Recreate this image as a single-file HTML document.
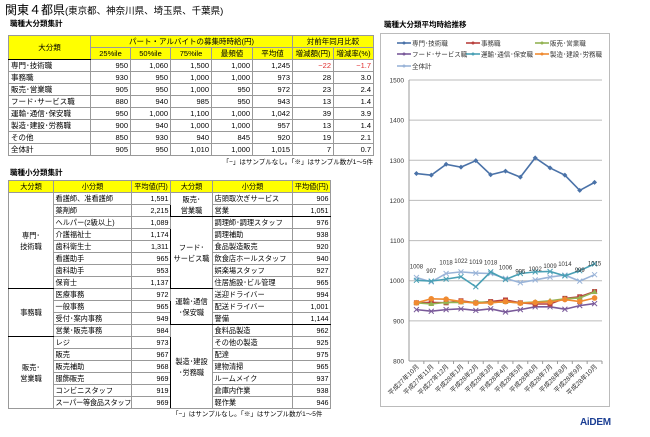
<!DOCTYPE html>
<html><head><meta charset="utf-8">
<style>
*{margin:0;padding:0;box-sizing:border-box}
body{width:650px;height:437px;background:#fff;position:relative;overflow:hidden;font-family:"Liberation Sans","Noto Sans CJK JP",sans-serif;color:#000}
.abs{position:absolute}
table{border-collapse:collapse;font-size:7.5px;table-layout:fixed}
td{border:1px solid #999;padding:0 2px;white-space:nowrap;overflow:hidden}
.y{background:#ffff00;text-align:center}
.r{text-align:right}
.c{text-align:center}
#t1{left:8px;top:35px;width:365px;border:1.5px solid #000}
#t1 tr{height:12px}
#t2{left:8px;top:180px;width:322px;border:1.5px solid #000;font-size:7.2px}
#t2 td{padding:0 1.5px}
#t2 tr{height:12px}
.bt td{border-top:1.5px solid #000}
.neg{color:#e03030}
</style></head><body>
<div class="abs" style="left:5px;top:1px;font-size:12px;">関東４都県<span style="font-size:9.5px">(東京都、神奈川県、埼玉県、千葉県)</span></div>
<div class="abs" style="left:10px;top:18px;font-size:7.5px;font-weight:bold">職種大分類集計</div>

<table id="t1" class="abs">
<colgroup><col style="width:82px"><col style="width:40px"><col style="width:40px"><col style="width:41px"><col style="width:41px"><col style="width:40px"><col style="width:41px"><col style="width:40px"></colgroup>
<tr style="height:11px"><td class="y" rowspan="2" style="border-bottom:1.5px solid #000">大分類</td><td class="y" colspan="5">パート・アルバイトの募集時時給(円)</td><td class="y" colspan="2">対前年同月比較</td></tr>
<tr style="height:11px;border-bottom:1.5px solid #000"><td class="y">25%ile</td><td class="y">50%ile</td><td class="y">75%ile</td><td class="y">最頻値</td><td class="y">平均値</td><td class="y">増減額(円)</td><td class="y">増減率(%)</td></tr>
<tr><td>専門･技術職</td><td class="r">950</td><td class="r">1,060</td><td class="r">1,500</td><td class="r">1,000</td><td class="r">1,245</td><td class="r neg">−22</td><td class="r neg">−1.7</td></tr>
<tr><td>事務職</td><td class="r">930</td><td class="r">950</td><td class="r">1,000</td><td class="r">1,000</td><td class="r">973</td><td class="r">28</td><td class="r">3.0</td></tr>
<tr><td>販売･営業職</td><td class="r">905</td><td class="r">950</td><td class="r">1,000</td><td class="r">950</td><td class="r">972</td><td class="r">23</td><td class="r">2.4</td></tr>
<tr><td>フード･サービス職</td><td class="r">880</td><td class="r">940</td><td class="r">985</td><td class="r">950</td><td class="r">943</td><td class="r">13</td><td class="r">1.4</td></tr>
<tr><td>運輸･通信･保安職</td><td class="r">950</td><td class="r">1,000</td><td class="r">1,100</td><td class="r">1,000</td><td class="r">1,042</td><td class="r">39</td><td class="r">3.9</td></tr>
<tr><td>製造･建設･労務職</td><td class="r">900</td><td class="r">940</td><td class="r">1,000</td><td class="r">1,000</td><td class="r">957</td><td class="r">13</td><td class="r">1.4</td></tr>
<tr><td>その他</td><td class="r">850</td><td class="r">930</td><td class="r">940</td><td class="r">845</td><td class="r">920</td><td class="r">19</td><td class="r">2.1</td></tr>
<tr class="bt"><td>全体計</td><td class="r">905</td><td class="r">950</td><td class="r">1,010</td><td class="r">1,000</td><td class="r">1,015</td><td class="r">7</td><td class="r">0.7</td></tr>
</table>
<div class="abs" style="right:277px;top:156px;font-size:6.5px">「−」はサンプルなし。「※」はサンプル数が1〜5件</div>

<div class="abs" style="left:10px;top:167px;font-size:7.5px;font-weight:bold">職種小分類集計</div>
<table id="t2" class="abs">
<colgroup><col style="width:45px"><col style="width:78px"><col style="width:39px"><col style="width:42px"><col style="width:80px"><col style="width:38px"></colgroup>
<tr style="border-bottom:1.5px solid #000"><td class="y">大分類</td><td class="y">小分類</td><td class="y">平均値(円)</td><td class="y" style="border-left:1.5px solid #000">大分類</td><td class="y">小分類</td><td class="y">平均値(円)</td></tr>
<tr><td class="c" rowspan="8" style="border-bottom:1.5px solid #000;white-space:normal;line-height:11px">専門･<br>技術職</td><td>看護師、准看護師</td><td class="r">1,591</td><td class="c" rowspan="2" style="border-left:1.5px solid #000;border-bottom:1.5px solid #000;line-height:11px">販売･<br>営業職</td><td>店頭取次ぎサービス</td><td class="r">906</td></tr>
<tr><td>薬剤師</td><td class="r">2,215</td><td style="border-bottom:1.5px solid #000">営業</td><td class="r" style="border-bottom:1.5px solid #000">1,051</td></tr>
<tr><td>ヘルパー(2級以上)</td><td class="r">1,089</td><td class="c" rowspan="6" style="border-left:1.5px solid #000;border-bottom:1.5px solid #000;line-height:11px">フード･<br>サービス職</td><td>調理師･調理スタッフ</td><td class="r">976</td></tr>
<tr><td>介護福祉士</td><td class="r">1,174</td><td>調理補助</td><td class="r">938</td></tr>
<tr><td>歯科衛生士</td><td class="r">1,311</td><td>食品製造販売</td><td class="r">920</td></tr>
<tr><td>看護助手</td><td class="r">965</td><td>飲食店ホールスタッフ</td><td class="r">940</td></tr>
<tr><td>歯科助手</td><td class="r">953</td><td>娯楽場スタッフ</td><td class="r">927</td></tr>
<tr style="border-bottom:1.5px solid #000"><td>保育士</td><td class="r">1,137</td><td>住居施設･ビル管理</td><td class="r">965</td></tr>
<tr><td class="c" rowspan="4" style="border-bottom:1.5px solid #000">事務職</td><td>医療事務</td><td class="r">972</td><td class="c" rowspan="3" style="border-left:1.5px solid #000;border-bottom:1.5px solid #000;line-height:11px">運輸･通信<br>･保安職</td><td>送迎ドライバー</td><td class="r">994</td></tr>
<tr><td>一般事務</td><td class="r">965</td><td>配送ドライバー</td><td class="r">1,001</td></tr>
<tr><td>受付･案内事務</td><td class="r">949</td><td style="border-bottom:1.5px solid #000">警備</td><td class="r" style="border-bottom:1.5px solid #000">1,144</td></tr>
<tr style="border-bottom:1.5px solid #000"><td>営業･販売事務</td><td class="r">984</td><td class="c" rowspan="7" style="border-left:1.5px solid #000;line-height:11px">製造･建設<br>･労務職</td><td>食料品製造</td><td class="r">962</td></tr>
<tr><td class="c" rowspan="6" style="line-height:11px">販売･<br>営業職</td><td>レジ</td><td class="r">973</td><td>その他の製造</td><td class="r">925</td></tr>
<tr><td>販売</td><td class="r">967</td><td>配達</td><td class="r">975</td></tr>
<tr><td>販売補助</td><td class="r">968</td><td>建物清掃</td><td class="r">965</td></tr>
<tr><td>服飾販売</td><td class="r">969</td><td>ルームメイク</td><td class="r">937</td></tr>
<tr><td>コンビニスタッフ</td><td class="r">919</td><td>倉庫内作業</td><td class="r">938</td></tr>
<tr><td style="letter-spacing:-0.3px">スーパー等食品スタッフ</td><td class="r">969</td><td>軽作業</td><td class="r">946</td></tr>
</table>
<div class="abs" style="left:172px;top:408px;font-size:6.5px">「−」はサンプルなし。「※」はサンプル数が1〜5件</div>

<div class="abs" style="left:384px;top:19px;font-size:7.5px;font-weight:bold">職種大分類平均時給推移</div>
<svg id="chart" class="abs" style="left:0;top:0" width="650" height="437"></svg>
<div class="abs" style="left:580px;top:417px;font-size:10px;font-weight:bold;color:#1c3f94;letter-spacing:-0.3px">AiDEM</div>

<script>
const categories=["平成27年10月","平成27年11月","平成27年12月","平成28年1月","平成28年2月","平成28年3月","平成28年4月","平成28年5月","平成28年6月","平成28年7月","平成28年8月","平成28年9月","平成28年10月"];
const yTicks=[800,900,1000,1100,1200,1300,1400,1500];
const seriesNames=["専門･技術職","事務職","販売･営業職","フード･サービス職","運輸･通信･保安職","製造･建設･労務職","全体計"];
const sSenmon=[1267,1263,1290,1283,1299,1264,1273,1258,1306,1281,1263,1225,1245];
const sJimu=[945,946,945,950,945,948,952,945,942,942,956,960,973];
const sHanbai=[945,942,946,946,947,946,947,945,947,950,955,957,972];
const sFood=[928,924,928,930,926,930,922,928,935,935,929,938,943];
const sUnyu=[1001,999,1004,1010,985,1022,1003,1018,1022,1023,1012,1025,1042];
const sSeizo=[945,955,954,948,944,945,948,944,946,947,953,948,957];
const sTotal=[1008,997,1018,1022,1019,1018,1006,995,1002,1009,1014,999,1015];
const totalLabels=["1008","997","1018","1022","1019","1018","1006","995","1002","1009","1014","999","1015"];

const NS="http://www.w3.org/2000/svg";
const svg=document.getElementById('chart');
const X0=409,X1=602,Y0=361,Y1=80,vmin=800,vmax=1500;
const step=(X1-X0)/categories.length;
const xs=i=>X0+step*(i+0.5);
const ys=v=>Y0-(v-vmin)/(vmax-vmin)*(Y0-Y1);
function el(tag,attrs,parent){const e=document.createElementNS(NS,tag);for(const k in attrs)e.setAttribute(k,attrs[k]);(parent||svg).appendChild(e);return e;}

const frame=el('rect',{x:380.5,y:33.5,width:229,height:373,fill:'none',stroke:'#bbb'});



yTicks.forEach(t=>{
  const g=el('line',{x1:X0,x2:X1,y1:ys(t),y2:ys(t),stroke:t===vmin?'#999':'#bbb','stroke-width':1});
  
  
  const tx=el('text',{x:X0-5,y:ys(t)+2.5,'font-size':6.5,'text-anchor':'end',fill:'#333'});
  tx.textContent=t;
  
  
});
el('line',{x1:X0,x2:X0,y1:Y1,y2:Y0,stroke:'#999'});
categories.forEach((c,i)=>{
  el('line',{x1:X0+step*(i+1),x2:X0+step*(i+1),y1:Y0,y2:Y0+3,stroke:'#999'});
  const x=xs(i),y=Y0+6;
  const tx=el('text',{x:x+3,y:y,'font-size':6.5,'text-anchor':'end',fill:'#333',transform:`rotate(-45 ${x+3} ${y})`});
  tx.textContent=c;
  
  
});

const colors=['#4a72a8','#b9413e','#93b353','#7a5a9a','#4aa0b5','#f08a30','#9ab4d8'];
const data=[sSenmon,sJimu,sHanbai,sFood,sUnyu,sSeizo,sTotal];
const order=[6,4,3,1,2,5,0];
order.forEach(si=>{
  const vals=data[si];
  const p=el('polyline',{points:vals.map((v,i)=>xs(i)+','+ys(v)).join(' '),fill:'none',stroke:colors[si],'stroke-width':1.6});
  
  
  vals.forEach((v,i)=>{
    const x=xs(i),y=ys(v);let m;
    if(si===0) m=el('path',{d:`M${x} ${y-2.5}L${x+2.5} ${y}L${x} ${y+2.5}L${x-2.5} ${y}Z`,fill:colors[si]});
    else if(si===1) m=el('rect',{x:x-2.5,y:y-2.5,width:5,height:5,fill:colors[si]});
    else if(si===2) m=el('path',{d:`M${x} ${y-3}L${x+3} ${y+2}L${x-3} ${y+2}Z`,fill:colors[si]});
    else if(si===5) m=el('circle',{cx:x,cy:y,r:2.8,fill:colors[si]});
    else m=el('path',{d:`M${x-2.5} ${y-2.5}L${x+2.5} ${y+2.5}M${x+2.5} ${y-2.5}L${x-2.5} ${y+2.5}`,stroke:colors[si],'stroke-width':1});
    
    
  });
});
sTotal.forEach((v,i)=>{
  const tx=el('text',{x:xs(i),y:ys(v)-9,'font-size':6,'text-anchor':'middle',fill:'#333'});
  tx.textContent=totalLabels[i];
  
  
});

const legPos=[[397,43],[466,43],[535,43],[397,54],[466,54],[535,54],[397,66]];
seriesNames.forEach((n,i)=>{
  const [x,y]=legPos[i];
  const l=el('line',{x1:x,x2:x+14,y1:y,y2:y,stroke:colors[i],'stroke-width':1.6});
  
  
  el('circle',{cx:x+7,cy:y,r:1.5,fill:colors[i]});
  const tx=el('text',{x:x+15,y:y+2.5,'font-size':6.5,fill:'#333'});
  tx.textContent=n;
  
  
});
</script>
</body></html>
